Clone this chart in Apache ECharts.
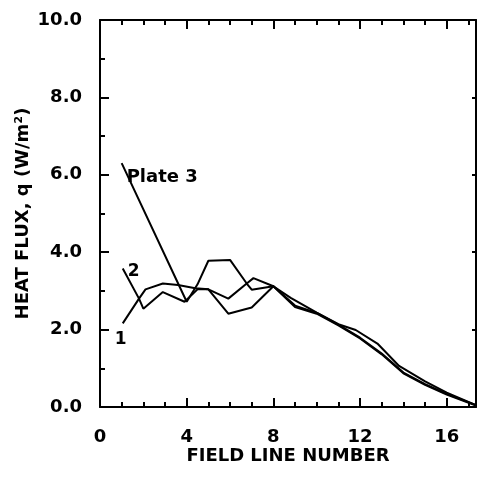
<!DOCTYPE html>
<html>
<head>
<meta charset="utf-8">
<script src="https://cdn.jsdelivr.net/npm/echarts@6/dist/echarts.min.js"></script>
<style>
  html, body { margin: 0; padding: 0; background: #fff; }
  #chart { width: 477px; height: 477px; }
</style>
</head>
<body>
<div id="chart"></div>
<script>
// data: [field line number, heat flux]
const plate3 = [
  [1.0, 6.30], [4.0, 2.72], [4.5, 3.17], [5.0, 3.78], [6.0, 3.80], [6.77, 3.19],
  [7.0, 3.03], [8.0, 3.12], [8.8, 2.82], [10.0, 2.44], [11.0, 2.14], [11.8, 1.99],
  [12.8, 1.64], [13.8, 1.06], [15.0, 0.66], [16.0, 0.37], [17.35, 0.05]
];
const plate2 = [
  [1.05, 3.58], [1.8, 2.80], [2.0, 2.54], [2.9, 2.97], [3.9, 2.72], [4.5, 3.04],
  [5.0, 3.04], [5.92, 2.80], [6.77, 3.19], [7.08, 3.33], [8.0, 3.12], [9.0, 2.58],
  [10.0, 2.41], [11.0, 2.11], [12.0, 1.77], [13.0, 1.36], [14.0, 0.87], [15.0, 0.57],
  [16.0, 0.32], [17.35, 0.04]
];
const plate1 = [
  [1.05, 2.16], [1.8, 2.80], [2.1, 3.04], [2.9, 3.19], [3.6, 3.15], [4.4, 3.07],
  [5.0, 3.04], [5.92, 2.41], [7.0, 2.57], [8.0, 3.12], [9.0, 2.62], [10.0, 2.43],
  [11.0, 2.13], [12.0, 1.79], [13.0, 1.38], [14.0, 0.89], [15.0, 0.59], [16.0, 0.34],
  [17.35, 0.05]
];
const seriesNames = ['Plate 3', '2', '1'];
const xTicks = [0, 4, 8, 12, 16];
const yTicks = [0, 2, 4, 6, 8, 10];

const fontFamily = 'DejaVu Sans';
const ink = '#000';

// label only on the first point of each curve
function withStartLabel(points, text, position, offset, size) {
  return points.map((p, i) => i === 0 ? {
    value: p,
    label: {
      show: true,
      formatter: text,
      position: position,
      offset: offset,
      color: ink,
      fontFamily: fontFamily,
      fontWeight: 'bold',
      fontSize: size
    }
  } : p);
}

const lineSeries = (name, data) => ({
  name: name,
  type: 'line',
  data: data,
  symbol: 'circle',
  symbolSize: 0,
  showSymbol: true,
  showAllSymbol: true,
  itemStyle: { color: ink },
  smooth: false,
  lineStyle: { color: ink, width: 2 },
  z: 3
});

// shared frame axis pieces
const frameLine = { show: true, onZero: false, lineStyle: { color: ink, width: 2 } };
const tickStyle = { color: ink, width: 2 };

const chart = echarts.init(document.getElementById('chart'), null, { renderer: 'canvas' });

const option = {
  animation: false,
  backgroundColor: '#fff',
  grid: { left: 100, right: 1, top: 20, bottom: 70 },
  xAxis: [
    {
      type: 'value',
      position: 'bottom',
      min: 0,
      max: 17.35,
      interval: 4,
      name: 'FIELD LINE NUMBER',
      nameLocation: 'middle',
      nameGap: 40,
      nameMoveOverlap: false,
      nameTextStyle: { color: ink, fontFamily: fontFamily, fontWeight: 'bold', fontSize: 18 },
      axisLine: frameLine,
      axisTick: { show: true, inside: true, length: 9, lineStyle: tickStyle },
      minorTick: { show: true, splitNumber: 4, length: 5, lineStyle: tickStyle },
      axisLabel: {
        color: ink, fontFamily: fontFamily, fontWeight: 'bold', fontSize: 18, margin: 21,
        showMaxLabel: false,
        formatter: v => xTicks.includes(v) ? String(v) : ''
      },
      splitLine: { show: false }
    },
    {
      type: 'value',
      position: 'top',
      min: 0,
      max: 17.35,
      interval: 4,
      axisLine: frameLine,
      axisTick: { show: true, inside: true, length: 9, lineStyle: tickStyle },
      minorTick: { show: true, splitNumber: 4, length: 5, lineStyle: tickStyle },
      axisLabel: { show: false },
      splitLine: { show: false }
    }
  ],
  yAxis: [
    {
      type: 'value',
      position: 'left',
      min: 0,
      max: 10,
      interval: 2,
      name: 'HEAT FLUX, q (W/m²)',
      nameLocation: 'middle',
      nameGap: 68,
      nameMoveOverlap: false,
      nameTextStyle: { color: ink, fontFamily: fontFamily, fontWeight: 'bold', fontSize: 18 },
      axisLine: frameLine,
      axisTick: { show: true, inside: true, length: 9, lineStyle: tickStyle },
      minorTick: { show: true, splitNumber: 2, length: 5, lineStyle: tickStyle },
      axisLabel: {
        color: ink, fontFamily: fontFamily, fontWeight: 'bold', fontSize: 18, margin: 18,
        formatter: v => yTicks.includes(v) ? v.toFixed(1) : ''
      },
      splitLine: { show: false }
    },
    {
      type: 'value',
      position: 'right',
      min: 0,
      max: 10,
      interval: 2,
      axisLine: frameLine,
      axisTick: { show: true, inside: true, length: 4, lineStyle: tickStyle },
      axisLabel: { show: false },
      splitLine: { show: false }
    }
  ],
  series: [
    lineSeries(seriesNames[0], withStartLabel(plate3, seriesNames[0], 'right', [0, 14], 18)),
    lineSeries(seriesNames[1], withStartLabel(plate2, seriesNames[1], 'right', [0, 3], 17)),
    lineSeries(seriesNames[2], withStartLabel(plate1, seriesNames[2], 'bottom', [-2, 3], 17))
  ]
};

chart.setOption(option);
window.addEventListener('resize', () => chart.resize());
</script>
</body>
</html>
